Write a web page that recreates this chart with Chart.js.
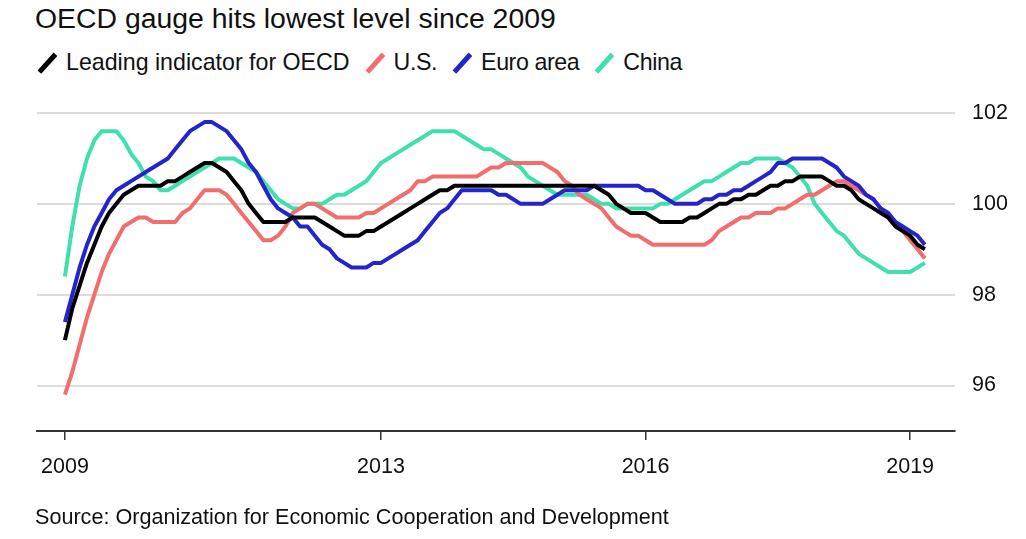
<!DOCTYPE html>
<html><head><meta charset="utf-8">
<script src="https://cdn.jsdelivr.net/npm/chart.js@4.4.0/dist/chart.umd.min.js"></script>
<style>
html,body{margin:0;padding:0;background:#fff;}
body{width:1026px;height:539px;position:relative;overflow:hidden;font-family:"Liberation Sans",Arial,sans-serif;color:#111;}
#title{position:absolute;left:35px;top:2px;font-size:28.4px;white-space:nowrap;}
#legend{position:absolute;left:38px;top:49px;font-size:23.2px;display:flex;align-items:center;white-space:nowrap;}
.item{display:flex;align-items:center;margin-right:16px;}
.item.s{letter-spacing:-0.4px;}
.mk{width:18px;height:22px;position:relative;margin-right:10px;}
.mk::before{content:"";position:absolute;left:7px;top:-1px;width:4.5px;height:24px;background:var(--c);transform:rotate(42deg);}
#source{position:absolute;left:35px;top:504px;font-size:21.6px;white-space:nowrap;}
canvas{position:absolute;left:0;top:0;}
</style></head>
<body>
<div id="title">OECD gauge hits lowest level since 2009</div>
<div id="legend">
  <div class="item"><span class="mk" style="--c:#000"></span>Leading indicator for OECD</div>
  <div class="item s"><span class="mk" style="--c:#f26e6e"></span>U.S.</div>
  <div class="item s"><span class="mk" style="--c:#2424cc"></span>Euro area</div>
  <div class="item s"><span class="mk" style="--c:#3fe0b0"></span>China</div>
</div>
<canvas id="c" width="1026" height="539"></canvas>
<div id="source">Source: Organization for Economic Cooperation and Development</div>
<script>
// Monthly values, June 2009 .. March 2019
const oecd = [
 97.0,97.7,98.2,98.7,99.1,99.5,99.8,100.0,100.2,100.3,100.4,100.4,100.4,100.4,100.5,100.5,100.6,100.7,100.8,100.9,
 100.9,100.8,100.7,100.5,100.3,100.0,99.8,99.6,99.6,99.6,99.6,99.7,99.7,99.7,99.7,99.6,99.5,99.4,99.3,
 99.3,99.3,99.4,99.4,99.5,99.6,99.7,99.8,99.9,100.0,100.1,100.2,100.3,100.3,100.4,100.4,100.4,100.4,100.4,100.4,
 100.4,100.4,100.4,100.4,100.4,100.4,100.4,100.4,100.4,100.4,100.4,100.4,100.4,100.4,100.3,100.2,100.0,99.9,99.8,99.8,
 99.8,99.7,99.6,99.6,99.6,99.6,99.7,99.7,99.8,99.9,100.0,100.0,100.1,100.1,100.2,100.2,100.3,100.4,100.4,100.5,
 100.5,100.6,100.6,100.6,100.6,100.5,100.4,100.4,100.3,100.1,100.0,99.9,99.8,99.7,99.5,99.4,99.3,99.1,99.0
];
const us = [
 95.8,96.3,96.9,97.5,98.0,98.5,98.9,99.2,99.5,99.6,99.7,99.7,99.6,99.6,99.6,99.6,99.8,99.9,100.1,100.3,
 100.3,100.3,100.2,100.0,99.8,99.6,99.4,99.2,99.2,99.3,99.5,99.8,99.9,100.0,100.0,99.9,99.8,99.7,99.7,
 99.7,99.7,99.8,99.8,99.9,100.0,100.1,100.2,100.3,100.5,100.5,100.6,100.6,100.6,100.6,100.6,100.6,100.6,100.7,100.8,
 100.8,100.9,100.9,100.9,100.9,100.9,100.9,100.8,100.7,100.5,100.4,100.2,100.1,100.0,99.9,99.7,99.5,99.4,99.3,99.3,
 99.2,99.1,99.1,99.1,99.1,99.1,99.1,99.1,99.1,99.2,99.4,99.5,99.6,99.7,99.7,99.8,99.8,99.8,99.9,99.9,
 100.0,100.1,100.2,100.2,100.3,100.4,100.5,100.5,100.4,100.3,100.2,100.1,99.9,99.8,99.6,99.4,99.2,99.0,98.8
];
const euro = [
 97.4,98.0,98.6,99.1,99.5,99.8,100.1,100.3,100.4,100.5,100.6,100.7,100.8,100.9,101.0,101.2,101.4,101.6,101.7,101.8,
 101.8,101.7,101.6,101.4,101.2,100.9,100.7,100.4,100.1,99.9,99.8,99.7,99.5,99.5,99.3,99.1,99.0,98.8,98.7,
 98.6,98.6,98.6,98.7,98.7,98.8,98.9,99.0,99.1,99.2,99.4,99.6,99.8,99.9,100.1,100.3,100.3,100.3,100.3,100.3,
 100.2,100.2,100.1,100.0,100.0,100.0,100.0,100.1,100.2,100.3,100.3,100.3,100.3,100.4,100.4,100.4,100.4,100.4,100.4,100.4,
 100.3,100.3,100.2,100.1,100.0,100.0,100.0,100.0,100.1,100.1,100.2,100.2,100.3,100.3,100.4,100.5,100.6,100.7,100.9,100.9,
 101.0,101.0,101.0,101.0,101.0,100.9,100.8,100.6,100.5,100.4,100.2,100.1,99.9,99.8,99.6,99.5,99.4,99.3,99.1
];
const china = [
 98.4,99.5,100.4,101.0,101.4,101.6,101.6,101.6,101.4,101.1,100.9,100.6,100.5,100.3,100.3,100.4,100.5,100.6,100.7,100.8,
 100.9,101.0,101.0,101.0,100.9,100.8,100.7,100.5,100.3,100.1,100.0,99.9,99.9,100.0,100.0,100.0,100.1,100.2,100.2,
 100.3,100.4,100.5,100.7,100.9,101.0,101.1,101.2,101.3,101.4,101.5,101.6,101.6,101.6,101.6,101.5,101.4,101.3,101.2,101.2,
 101.1,101.0,100.9,100.8,100.6,100.5,100.4,100.3,100.2,100.2,100.2,100.2,100.2,100.1,100.0,100.0,99.9,99.9,99.9,99.9,
 99.9,99.9,100.0,100.0,100.1,100.2,100.3,100.4,100.5,100.5,100.6,100.7,100.8,100.9,100.9,101.0,101.0,101.0,101.0,100.9,
 100.8,100.6,100.4,100.0,99.8,99.6,99.4,99.3,99.1,98.9,98.8,98.7,98.6,98.5,98.5,98.5,98.5,98.6,98.7
];
// x-axis labels: month index (from June 2009) -> year label
const tickIdx = [0, 43, 79, 115];
const tickYears = ['2009', '2013', '2016', '2019'];
const yTicks = [96, 98, 100, 102];

const FONT = '"Liberation Sans", Arial, sans-serif';
const pts = arr => arr.map((v, i) => ({x: i, y: v}));
const ds = (label, arr, color) => ({label, data: pts(arr), borderColor: color, backgroundColor: color,
  borderWidth: 4, pointRadius: 0, tension: 0, fill: false, borderJoinStyle: 'round'});

new Chart(document.getElementById('c'), {
  type: 'line',
  data: { datasets: [
    ds('Leading indicator for OECD', oecd, '#000000'),
    ds('Euro area', euro, '#2424cc'),
    ds('U.S.', us, '#f26e6e'),
    ds('China', china, '#3fe0b0')
  ]},
  options: {
    responsive: false, animation: false,
    layout: { padding: { left: 37, top: 113, right: 0, bottom: 58 } },
    plugins: { legend: { display: false }, tooltip: { enabled: false } },
    scales: {
      x: {
        type: 'linear', min: -3.8, max: 121.1,
        afterBuildTicks: s => { s.ticks = tickIdx.map(v => ({ value: v })); },
        afterFit: s => { s.height = 50; },
        ticks: { autoSkip: false, maxRotation: 0, padding: 14, color: '#111',
          font: { size: 21.5, family: FONT },
          callback: (v, i) => tickYears[i] },
        grid: { drawOnChartArea: false, drawTicks: true, tickLength: 9, color: '#333', lineWidth: 1.5 },
        border: { display: true, color: '#333', width: 2 }
      },
      y: {
        position: 'right', min: 95, max: 102,
        afterBuildTicks: s => { s.ticks = yTicks.map(v => ({ value: v })); },
        afterFit: s => { s.width = 71; },
        ticks: { padding: 17, color: '#111', font: { size: 21.5, family: FONT } },
        grid: { color: '#dcdcdc', lineWidth: 2, drawTicks: false },
        border: { display: false }
      }
    }
  }
});
</script>
</body></html>
